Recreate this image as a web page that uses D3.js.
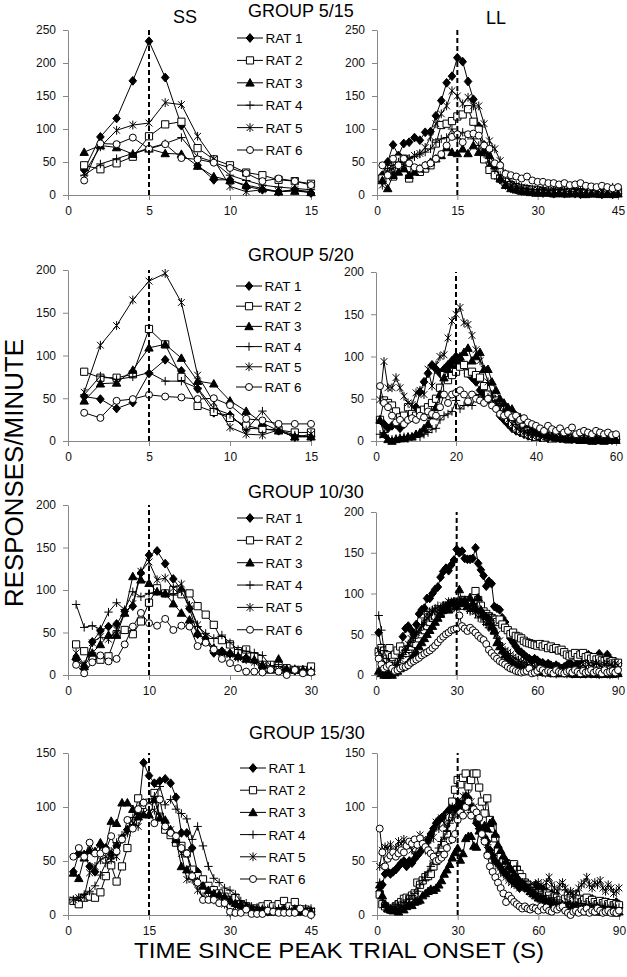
<!DOCTYPE html>
<html><head><meta charset="utf-8">
<script src="https://cdn.jsdelivr.net/npm/d3@7"></script>
<style>body{margin:0;background:#fff;} svg{display:block;font-family:"Liberation Sans",Arial,sans-serif;}</style>
</head><body><svg id="c" width="627" height="977"></svg>
<script>
// ---------- labels ----------
const ratLabels = ["RAT 1","RAT 2","RAT 3","RAT 4","RAT 5","RAT 6"];
const groupTitles = ["GROUP 5/15","GROUP 5/20","GROUP 10/30","GROUP 15/30"];
const columnTitles = ["SS","LL"];
const xTitle = "TIME SINCE PEAK TRIAL ONSET (S)";
const yTitle = "RESPONSES/MINUTE";

// ---------- tick values ----------
const xTicks_SS_5_15 = [0,5,10,15],  xTicks_LL_5_15 = [0,15,30,45];
const xTicks_SS_5_20 = [0,5,10,15],  xTicks_LL_5_20 = [0,20,40,60];
const xTicks_SS_10_30 = [0,10,20,30], xTicks_LL_10_30 = [0,30,60,90];
const xTicks_SS_15_30 = [0,15,30,45], xTicks_LL_15_30 = [0,30,60,90];
const yTicks_250 = [0,50,100,150,200,250];
const yTicks_200 = [0,50,100,150,200];
const yTicks_150 = [0,50,100,150];
const criterion = [5,15,5,20,10,30,15,30];

// ---------- data: responses/minute, one array per rat (RAT 1..6), time bins 1..N ----------
const SS_5_15 = [
 [38,88,116,173,233,178,105,45,23,23,13,8,5,8,3],
 [45,39,48,58,89,107,111,71,54,45,34,30,23,21,17],
 [65,75,72,62,70,63,62,44,28,22,15,10,5,6,4],
 [30,47,55,63,71,78,87,58,50,30,22,15,12,10,8],
 [33,73,98,106,109,140,137,89,54,13,5,8,5,8,5],
 [22,78,77,87,70,77,56,54,49,41,33,21,25,21,15]
];
const LL_5_15 = [
 [30,50,76,60,78,80,87,83,95,96, 120,143,170,180,208,202,172,145,104,76, 42,30,23,15,10,8,6,5,4,5, 3,4,2,3,2,3,2,1,2,3, 2,1,2,1,2],
 [25,35,28,55,55,25,38,35,40,45, 78,106,108,112,119,122,130,111,99,54, 38,30,25,20,15,12,10,9,8,7, 6,5,5,6,5,4,5,4,3,4, 3,4,3,3,4],
 [22,10,30,35,40,30,35,40,45,50, 55,60,72,65,63,70,63,75,65,67, 60,45,25,15,10,8,6,5,4,3, 4,3,2,3,2,2,3,2,1,2, 2,1,2,1,2],
 [20,40,45,50,50,55,58,62,65,70, 80,85,87,100,85,95,90,85,75,62, 50,38,30,20,15,12,10,9,8,8, 9,7,8,9,8,10,9,8,10,11, 9,10,11,12,10],
 [15,35,40,45,48,55,60,63,72,88, 108,123,135,158,150,138,148,135,135,108, 82,70,52,32,20,15,12,10,8,8, 7,6,8,7,6,5,6,8,7,6, 8,9,7,8,10],
 [45,30,55,45,55,48,42,40,45,48, 55,62,75,88,92,80,92,93,90,75, 70,48,45,32,30,28,25,28,22,20, 20,18,18,16,18,15,16,18,14,13, 12,14,12,10,12]
];
const SS_5_20 = [
 [52,49,38,45,79,95,82,61,33,30,15,14,12,5,5],
 [81,74,74,78,131,113,75,41,34,27,18,14,13,10,10],
 [47,67,68,83,109,113,97,70,67,47,35,21,12,5,5],
 [54,76,72,75,80,70,70,62,38,31,13,35,13,7,5],
 [57,112,135,165,187,196,162,77,45,16,8,7,13,4,8],
 [33,27,47,49,54,52,51,49,50,42,26,24,20,20,20]
];
const LL_5_20 = [
 [25,20,15,18,20,15,20,25,30,40, 58,70,80,90,85,80,85,90,95,100, 97,90,80,75,70,60,55,50,45,40, 30,25,20,15,12,10,8,6,5,6, 4,5,3,4,5,3,4,3,2,4, 3,2,3,2,1,2,3,2,1,2],
 [25,48,45,42,35,28,30,40,32,30, 35,37,40,45,50,63,78,72,78,82, 88,90,80,82,78,75,65,55,50,48, 40,30,25,20,15,12,10,8,6,5, 6,4,5,3,4,5,3,2,3,4, 2,3,5,2,1,3,2,4,2,3],
 [25,8,2,0,2,3,3,5,5,8, 10,15,20,30,40,55,75,85,90,95, 100,105,110,95,100,105,85,85,70,60, 50,45,40,38,30,28,25,20,15,12, 10,8,6,5,4,3,4,2,3,2, 1,2,1,0,2,1,0,1,2,1],
 [8,10,3,2,3,4,5,3,5,8, 5,8,10,14,15,25,30,32,35,48, 38,42,45,42,52,55,50,52,48,45, 42,35,30,25,20,15,12,10,8,6, 5,6,4,5,3,4,6,3,4,5, 3,4,2,3,5,3,2,4,3,2],
 [49,94,63,63,75,63,53,45,43,57, 60,55,85,65,90,100,102,122,142,150, 158,140,138,125,108,95,85,70,55,45, 38,30,25,20,15,12,10,8,6,8, 5,6,8,4,5,6,3,5,4,6, 3,5,4,3,5,2,4,3,5,4],
 [65,45,40,30,22,25,20,25,27,25, 30,28,35,32,30,40,55,45,55,57, 60,55,47,55,50,48,45,50,42,38, 32,30,32,28,30,25,27,22,20,18, 15,12,18,14,12,15,10,12,16,8, 10,12,10,8,12,10,8,10,7,8]
];
const SS_10_30 = [
 [18,10,39,52,57,60,75,81,120,141, 146,131,113,100,78,48,43,26,28,25, 22,20,18,12,10,8,6,5,6,4],
 [36,28,22,18,22,48,53,48,63,85, 102,96,100,95,96,81,71,59,41,36, 28,30,22,12,12,8,8,6,6,10],
 [22,10,26,36,47,47,73,116,112,108, 98,96,84,73,65,49,41,32,28,26, 22,19,18,12,6,19,7,6,6,4],
 [83,56,58,54,74,85,77,98,92,96, 98,96,94,98,81,57,49,43,47,38, 30,28,26,23,11,10,7,7,6,5],
 [26,12,38,45,42,53,73,84,122,133, 112,114,102,107,82,59,45,30,26,24, 20,18,15,10,7,6,6,7,4,4],
 [12,2,15,23,16,19,36,57,73,61, 58,66,53,58,57,34,38,30,19,14, 8,4,4,3,6,4,0,6,2,3]
];
const LL_10_30 = [
 [52,33,12,5,2,3,5,10,25,47, 57,60,55,50,62,75,80,82,94,94, 100,105,108,120,127,131,128,135,141,154, 150,152,143,142,142,143,156,137,129,122, 109,115,112,84,82,80,70,65,55,45, 40,35,30,28,25,22,20,18,20,18, 15,15,12,14,12,10,12,10,8,10, 12,15,12,10,15,18,20,22,25,20, 18,22,26,20,18,25,20,15,12,14],
 [28,33,30,25,33,22,25,30,35,30, 27,32,35,40,38,45,50,55,60,65, 70,72,78,75,80,85,82,88,85,90, 88,85,92,90,88,95,103,92,85,78, 75,72,70,68,65,68,62,58,55,50, 52,48,47,45,42,40,39,38,37,36, 38,35,37,33,35,32,33,30,31,28, 25,23,25,27,22,25,27,22,23,20, 22,19,20,18,17,18,16,17,15,15],
 [5,2,0,0,1,0,3,5,8,10, 12,15,20,25,28,35,40,45,50,55, 60,65,70,75,80,85,80,88,90,85, 105,88,92,85,95,88,82,95,80,75, 72,65,60,55,40,35,30,25,22,18, 15,12,12,10,8,8,6,5,5,4, 5,4,3,4,3,2,3,2,3,2, 2,3,2,1,2,2,1,2,3,2, 1,2,1,2,2,1,2,1,2,2],
 [73,55,30,20,15,12,10,15,20,25, 30,35,40,45,52,55,62,70,75,78, 80,82,85,80,85,80,88,90,82,85, 92,88,85,80,78,82,75,70,72,65, 62,58,55,50,45,38,32,25,22,18, 15,12,10,8,8,6,5,5,4,3, 4,3,2,3,2,3,1,2,3,2, 1,2,1,3,2,1,2,1,2,1, 2,1,0,1,2,1,0,1,2,1],
 [30,20,10,8,5,10,12,15,20,25, 30,38,45,50,52,55,60,65,70,72, 78,80,75,82,85,80,90,88,85,82, 90,92,88,85,80,82,78,80,75,70, 68,72,70,60,50,42,35,30,28,25, 22,20,18,16,15,14,12,12,10,10, 9,8,10,9,8,7,9,8,7,8, 9,10,8,9,11,10,12,10,13,11, 12,14,12,10,13,15,12,11,14,12],
 [20,13,8,10,12,8,5,6,8,10, 10,12,15,17,19,21,24,26,28,30, 33,36,40,44,47,50,52,55,56,57, 73,60,57,54,58,55,52,48,45,43, 38,31,27,23,20,17,15,13,10,8, 7,5,4,3,4,5,8,2,3,5, 8,6,3,5,4,2,6,4,3,2, 4,5,3,6,4,2,5,3,4,6, 3,5,4,2,6,3,4,5,3,6]
];
const SS_15_30 = [
 [40,57,56,45,40,65,62,56,64,71, 79,83,94,141,129,122,124,126,122,109, 76,76,62,40,30,25,23,19,16,13, 10,8,6,3,2,2,3,4,5,5, 4,5,4,5,3],
 [13,10,16,17,16,21,36,46,31,45, 62,87,108,102,104,113,91,79,74,67, 64,57,42,36,33,27,23,20,17,14, 16,10,8,6,6,8,10,8,10,13, 8,12,5,5,3],
 [39,34,53,60,59,67,62,87,85,104, 104,98,91,93,93,107,90,88,79,70, 45,42,37,31,27,23,20,19,17,14, 11,10,8,6,5,5,3,3,4,5, 3,3,3,4,3],
 [14,16,19,22,27,37,48,59,67,74, 79,90,97,104,101,110,119,102,107,98, 94,89,70,82,64,45,34,30,25,23, 19,13,11,8,7,6,6,6,6,5, 5,6,5,6,6],
 [14,16,17,39,45,51,54,51,54,70, 76,85,82,94,99,97,91,85,79,73, 57,33,33,23,17,16,14,13,10,2, 8,6,6,5,3,5,4,3,5,4, 3,4,3,5,4],
 [54,62,54,67,57,57,60,73,59,70, 88,80,98,104,100,85,107,82,76,73, 62,57,36,30,14,14,14,11,11,3, 2,2,5,1,1,1,4,3,2,2, 2,2,6,2,0]
];
const LL_15_30 = [
 [22,28,38,40,38,40,42,45,48,50, 45,50,48,52,55,58,62,65,70,75, 80,85,88,90,92,95,98,100,98,105, 100,103,110,108,100,95,85,80,78,72, 68,60,55,50,48,45,40,38,35,32, 30,28,25,28,26,25,22,25,28,22, 25,20,22,18,20,15,18,15,12,15, 12,14,10,15,12,10,14,10,12,15, 10,12,8,10,12,10,8,10,12,10],
 [19,10,8,6,5,5,8,10,12,15, 16,15,18,20,30,28,32,35,36,38, 45,50,54,62,67,74,91,105,116,125, 121,127,131,119,125,131,131,118,105,94, 108,88,80,71,60,54,50,48,47,45, 47,42,38,35,30,28,25,22,20,20, 18,16,20,18,15,17,16,14,20,15, 18,16,14,19,15,12,14,16,12,14, 12,10,13,11,12,10,11,9,10,9],
 [28,18,10,6,5,4,5,3,6,5, 8,10,9,12,13,14,18,20,22,24, 23,25,28,32,38,42,47,53,58,62, 51,57,71,73,73,64,63,78,80,83, 80,85,87,75,65,60,55,50,45,42, 38,35,32,30,28,25,22,20,18,16, 15,14,12,12,10,10,9,8,8,7, 6,6,5,6,5,5,4,5,4,5, 4,3,4,3,4,3,4,3,2,3],
 [30,15,10,8,6,8,10,8,12,10, 14,15,18,20,22,28,32,35,40,45, 50,55,62,68,72,78,85,90,95,98, 100,102,105,100,95,90,85,80,75,70, 65,60,55,50,48,45,40,38,35,32, 30,45,28,26,24,22,20,22,18,20, 16,18,15,14,16,12,14,12,10,12, 11,10,12,9,11,10,8,10,9,8, 10,8,9,7,8,6,8,7,6,7],
 [45,60,63,62,65,58,62,68,66,70, 65,65,60,55,65,74,70,60,65,70, 72,86,80,90,85,80,95,100,95,105, 102,110,108,112,105,100,90,85,75,70, 60,55,50,48,45,40,38,35,32,30, 28,30,25,28,30,25,28,22,25,30, 28,25,30,35,28,25,22,28,30,25, 20,22,18,20,25,28,30,35,28,25, 30,28,32,25,22,28,25,20,22,25],
 [80,58,45,52,55,58,54,57,60,58, 64,68,66,70,65,71,66,63,60,57, 54,50,51,53,56,62,69,70,75,88, 95,92,100,105,92,98,95,90,75,68, 55,45,40,35,30,25,20,12,18,15, 12,10,8,6,8,6,5,7,6,4, 8,5,7,4,3,6,5,7,8,4, 2,0,3,4,2,5,3,6,2,4, 3,6,4,2,3,4,2,3,2,4]
];

// ---------- layout (positions only) ----------
const panels = [
 {series:SS_5_15,  xMax:15, yMax:250, xTicks:xTicks_SS_5_15,  yTicks:yTicks_250, dash:criterion[0], left:68,  right:311, top:30,  bottom:195, legend:{x:237, y:38,  dy:22.4}},
 {series:LL_5_15,  xMax:45, yMax:250, xTicks:xTicks_LL_5_15,  yTicks:yTicks_250, dash:criterion[1], left:377, right:618, top:30,  bottom:195},
 {series:SS_5_20,  xMax:15, yMax:200, xTicks:xTicks_SS_5_20,  yTicks:yTicks_200, dash:criterion[2], left:68,  right:311, top:270, bottom:441, legend:{x:236, y:286, dy:20.2}},
 {series:LL_5_20,  xMax:60, yMax:200, xTicks:xTicks_LL_5_20,  yTicks:yTicks_200, dash:criterion[3], left:376, right:616, top:272, bottom:441},
 {series:SS_10_30, xMax:30, yMax:200, xTicks:xTicks_SS_10_30, yTicks:yTicks_200, dash:criterion[4], left:68,  right:311, top:505, bottom:675, legend:{x:237, y:518, dy:22.35}},
 {series:LL_10_30, xMax:90, yMax:200, xTicks:xTicks_LL_10_30, yTicks:yTicks_200, dash:criterion[5], left:376, right:618, top:512, bottom:675},
 {series:SS_15_30, xMax:45, yMax:150, xTicks:xTicks_SS_15_30, yTicks:yTicks_150, dash:criterion[6], left:68,  right:311, top:753, bottom:915, legend:{x:240, y:768, dy:22.2}},
 {series:LL_15_30, xMax:90, yMax:150, xTicks:xTicks_LL_15_30, yTicks:yTicks_150, dash:criterion[7], left:377, right:619, top:753, bottom:915}
];
const groupTitlePos = [{x:248,y:17},{x:248,y:261},{x:248,y:498},{x:249,y:739}];

const markerTypes = ["diamond","square","triangle","plus","star","circle"];
const svg = d3.select("#c");
const AXIS = "#878787", INK = "#000";

function drawMarker(g, type, cx, cy){
  const t = `translate(${cx},${cy})`;
  if(type==="circle"){
    g.append("circle").attr("cx",cx).attr("cy",cy).attr("r",3.5).attr("fill","#fff").attr("stroke",INK).attr("stroke-width",1);
    return;
  }
  const paths = {
    diamond:"M0,-4.4L3.8,0L0,4.4L-3.8,0Z",
    square:"M-3.6,-3.6H3.6V3.6H-3.6Z",
    triangle:"M0,-4.2L4.2,3.3H-4.2Z",
    plus:"M-4.2,0H4.2M0,-4.2V4.2",
    star:"M-3.4,-3.4L3.4,3.4M-3.4,3.4L3.4,-3.4M0,-4.4V4.4"
  };
  const fill = {diamond:INK, square:"#fff", triangle:INK, plus:"none", star:"none"}[type];
  g.append("path").attr("d",paths[type]).attr("transform",t)
    .attr("fill",fill).attr("stroke",INK).attr("stroke-width",1);
}

function styleAxis(sel){
  sel.select(".domain").attr("stroke",AXIS).attr("stroke-width",1);
  sel.selectAll(".tick line").attr("stroke",AXIS).attr("stroke-width",1);
  sel.selectAll(".tick text").attr("fill","#111").attr("font-size",null).style("font-size","12px")
     .style("font-family",'"Liberation Sans",Arial,sans-serif');
}

panels.forEach(p=>{
  const x = d3.scaleLinear().domain([0,p.xMax]).range([p.left,p.right]);
  const y = d3.scaleLinear().domain([0,p.yMax]).range([p.bottom,p.top]);
  const g = svg.append("g");
  const ax = g.append("g").attr("transform",`translate(0,${p.bottom})`)
    .call(d3.axisBottom(x).tickValues(p.xTicks).tickSize(5).tickPadding(6).tickSizeOuter(0));
  styleAxis(ax);
  const ay = g.append("g").attr("transform",`translate(${p.left},0)`)
    .call(d3.axisLeft(y).tickValues(p.yTicks).tickSize(5).tickPadding(7).tickSizeOuter(0));
  styleAxis(ay);

  const line = d3.line().x(d=>x(d[0])).y(d=>y(d[1]));
  p.series.forEach((vals,i)=>{
    const pts = vals.map((v,j)=>[j+1,v]);
    g.append("path").attr("d",line(pts)).attr("fill","none").attr("stroke",INK).attr("stroke-width",1);
    pts.forEach(d=>drawMarker(g, markerTypes[i], x(d[0]), y(d[1])));
  });

  g.append("line").attr("x1",x(p.dash)).attr("x2",x(p.dash))
    .attr("y1",y(0)).attr("y2",y(p.yMax))
    .attr("stroke",INK).attr("stroke-width",2).attr("stroke-dasharray","5,3");

  if(p.legend){
    const L = p.legend;
    ratLabels.forEach((lab,i)=>{
      const yy = L.y + i*L.dy;
      g.append("line").attr("x1",L.x).attr("x2",L.x+26).attr("y1",yy).attr("y2",yy)
        .attr("stroke",INK).attr("stroke-width",1);
      drawMarker(g, markerTypes[i], L.x+13, yy);
      g.append("text").attr("x",L.x+28.5).attr("y",yy+5).text(lab)
        .attr("fill",INK).style("font-size","13.5px");
    });
  }
});

// group titles
groupTitles.forEach((t,i)=>{
  svg.append("text").attr("x",groupTitlePos[i].x).attr("y",groupTitlePos[i].y)
    .text(t).style("font-size","18px").attr("fill",INK);
});
// column titles
svg.append("text").attr("x",185).attr("y",23).attr("text-anchor","middle")
  .text(columnTitles[0]).style("font-size","18px").attr("fill",INK);
svg.append("text").attr("x",496).attr("y",24).attr("text-anchor","middle")
  .text(columnTitles[1]).style("font-size","18px").attr("fill",INK);

// axis titles
svg.append("text").attr("x",339).attr("y",958).attr("text-anchor","middle")
  .attr("textLength",410).attr("lengthAdjust","spacingAndGlyphs")
  .text(xTitle).style("font-size","22px").attr("fill",INK);
svg.append("text").attr("transform","translate(23,473) rotate(-90)").attr("text-anchor","middle")
  .attr("textLength",268).attr("lengthAdjust","spacingAndGlyphs")
  .text(yTitle).style("font-size","25px").attr("fill",INK);
</script></body></html>
